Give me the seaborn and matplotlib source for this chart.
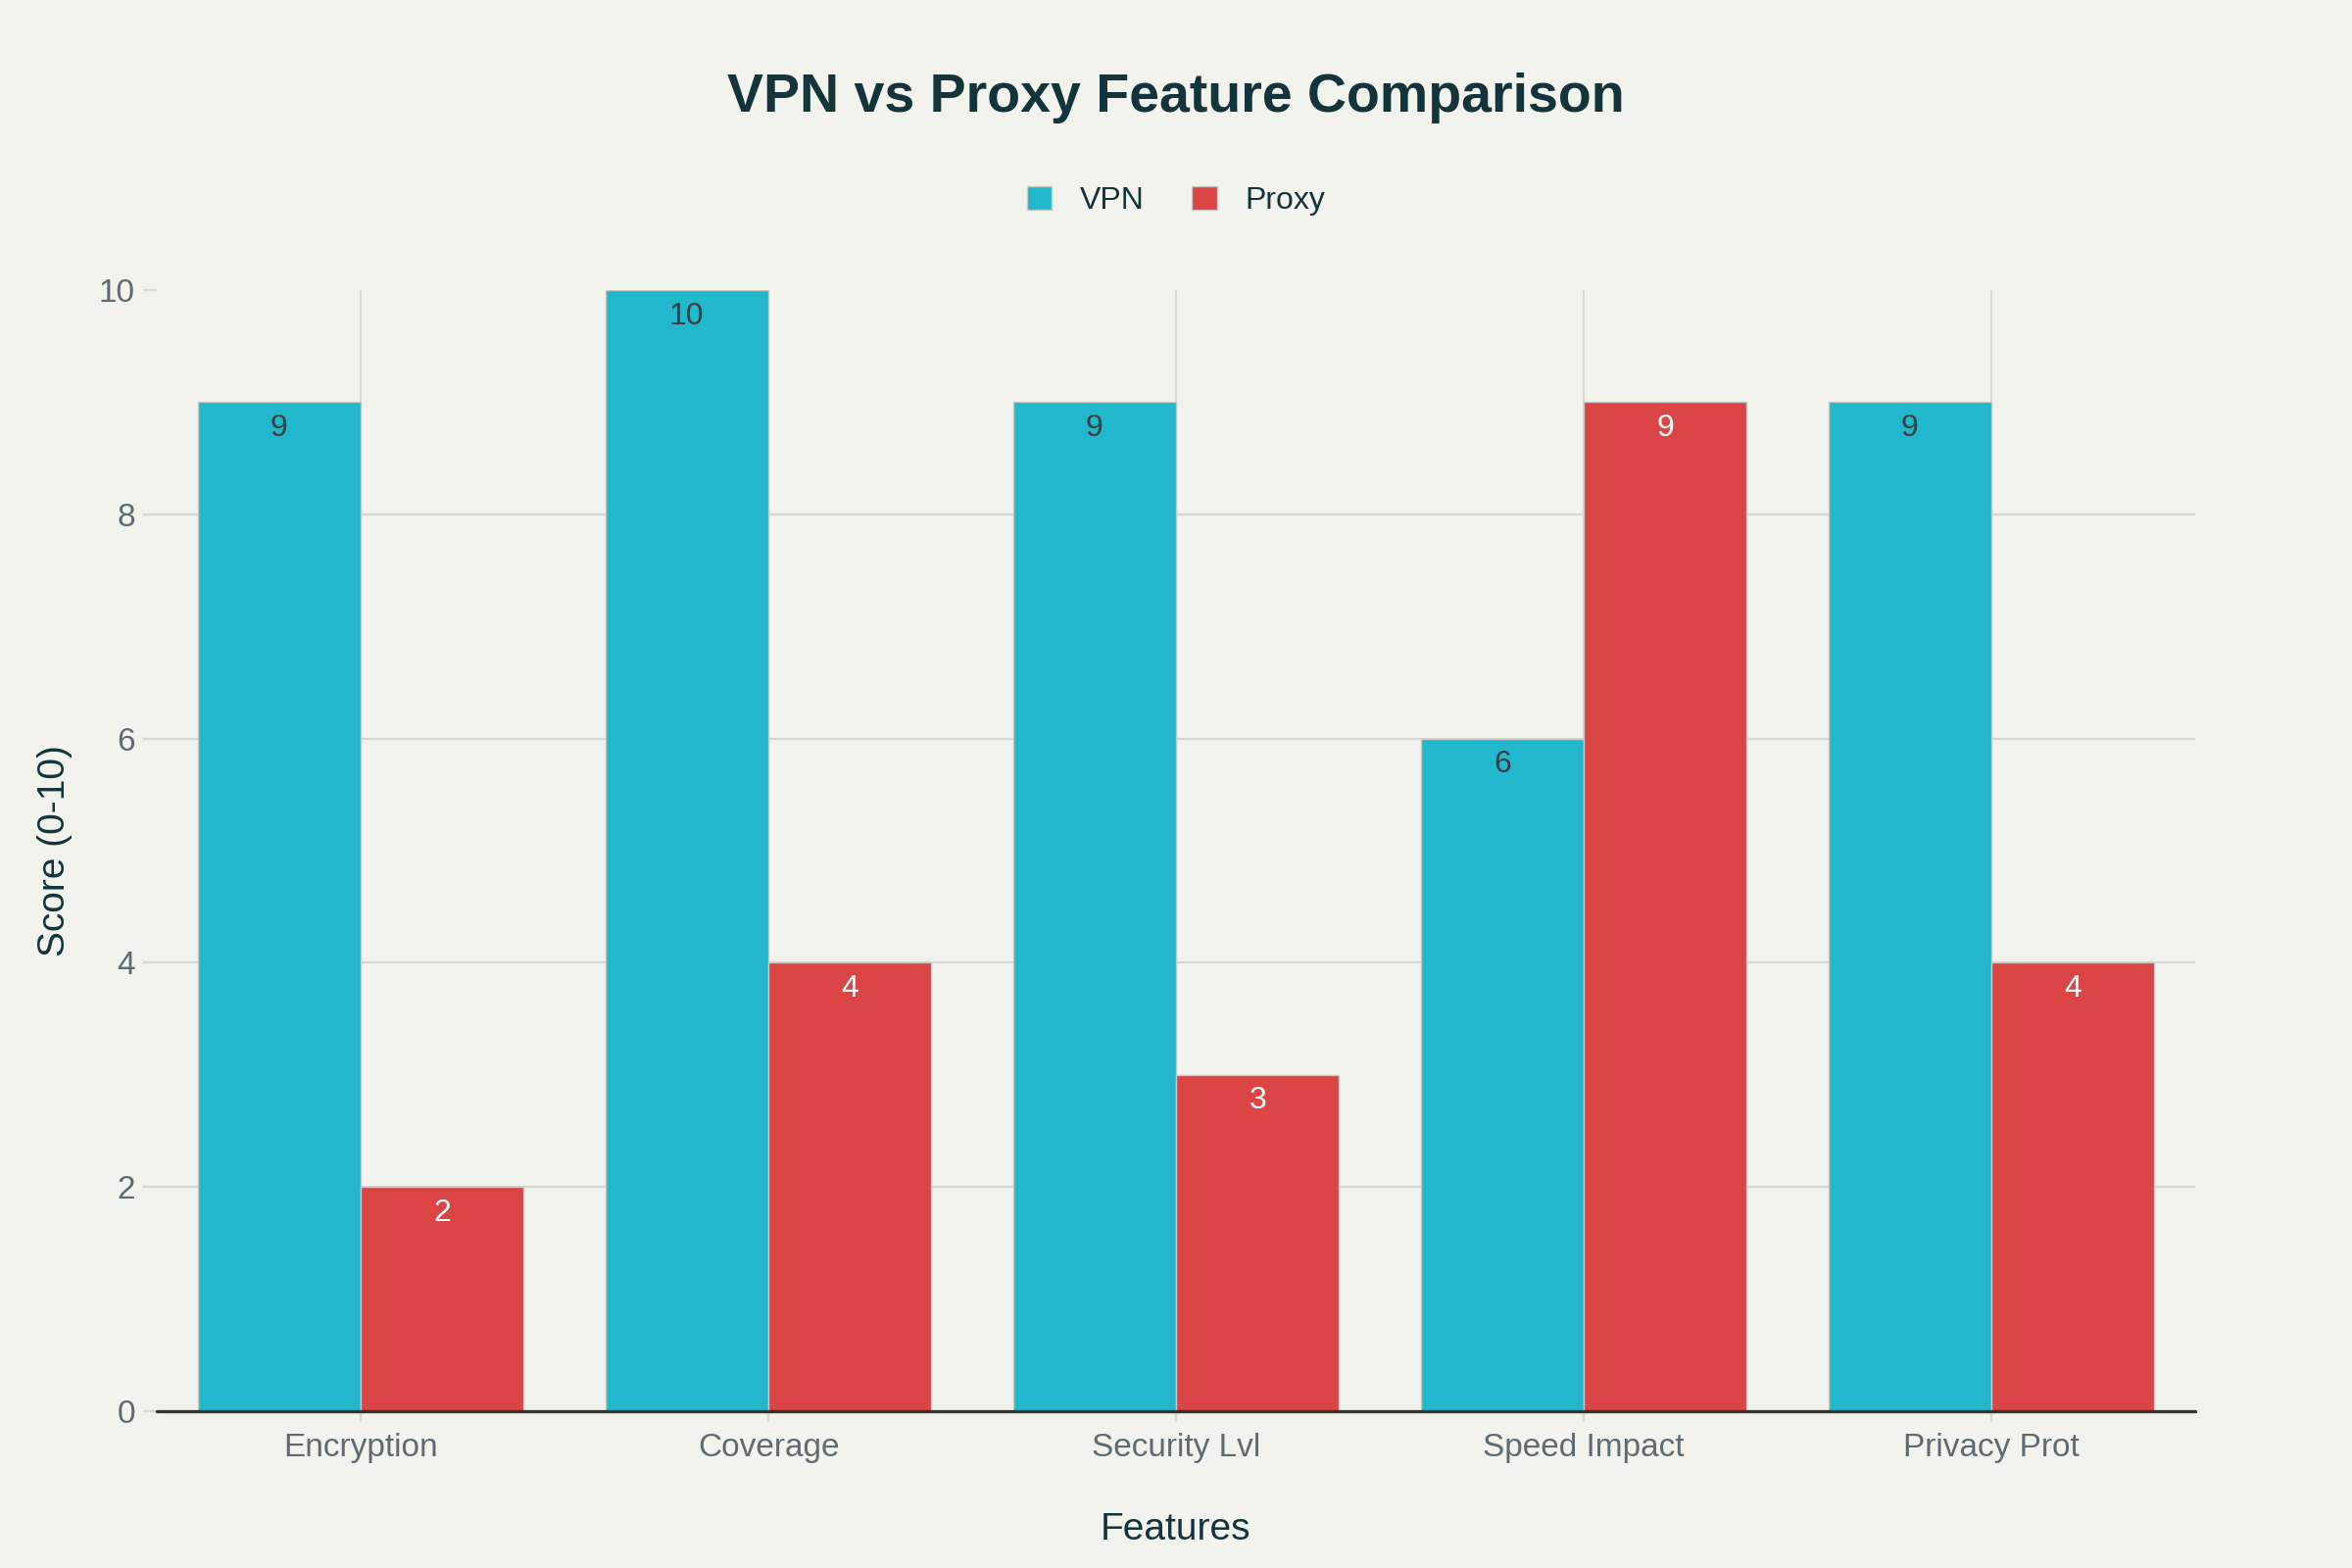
import matplotlib
matplotlib.use('Agg')
import matplotlib.pyplot as plt
import seaborn as sns
import pandas as pd
import numpy as np

features = ['Encryption', 'Coverage', 'Security Lvl', 'Speed Impact', 'Privacy Prot']
vpn_scores = [9, 10, 9, 6, 9]
proxy_scores = [2, 4, 3, 9, 4]
series_names = ['VPN', 'Proxy']
colors = ['#21B8CD', '#DB4545']
label_colors = ['#3D3D3D', '#FFFFFF']

bg = '#F3F3EE'
grid_c = '#D9D9D4'
text_dark = '#13343B'
tick_c = '#5F6B73'

df = pd.DataFrame({
    'Feature': features * 2,
    'Score': vpn_scores + proxy_scores,
    'Type': ['VPN'] * len(features) + ['Proxy'] * len(features),
})

sns.set_theme(style='white')
plt.rcParams['font.family'] = ['Liberation Sans', 'DejaVu Sans']

fig = plt.figure(figsize=(12, 8), dpi=200, facecolor=bg)
ax = fig.add_axes([160 / 2400, 0.1, 2080 / 2400, 0.715])
ax.set_facecolor(bg)

sns.barplot(data=df, x='Feature', y='Score', hue='Type', order=features,
            hue_order=series_names, palette=colors, width=0.8,
            edgecolor='#C8C8C4', linewidth=0.5, saturation=1, ax=ax, zorder=3)

# value labels inside bar tops
for cont, lc in zip(ax.containers, label_colors):
    labels = [f'{int(v)}' for v in cont.datavalues]
    ax.bar_label(cont, labels=labels, label_type='edge', padding=-15,
                 color=lc, fontsize=11.5, zorder=5)

ax.set_ylim(0, 10)
ax.set_xlim(-0.5, len(features) - 0.5)
ax.set_yticks([0, 2, 4, 6, 8, 10])
for y in [2, 4, 6, 8]:
    ax.axhline(y, color=grid_c, lw=0.8, zorder=1)
for x in range(len(features)):
    ax.axvline(x, color=grid_c, lw=0.8, zorder=1)
ax.axhline(0, color='#333333', lw=1.2, zorder=6, clip_on=False)

for s in ['top', 'right', 'left', 'bottom']:
    ax.spines[s].set_visible(False)

ax.tick_params(axis='y', length=5, width=0.8, color=grid_c, labelcolor=tick_c,
               labelsize=12, pad=3, left=True)
ax.tick_params(axis='x', length=4, width=0.8, color=grid_c, labelcolor=tick_c,
               labelsize=12, pad=4, bottom=True)

ax.set_xlabel('Features', fontsize=14, color=text_dark, labelpad=18)
ax.set_ylabel('Score (0-10)', fontsize=14, color=text_dark, labelpad=9.5)

fig.suptitle('VPN vs Proxy Feature Comparison', fontsize=20, fontweight='bold',
             color=text_dark, y=1 - 100 / 1600, va='center')

handles, lbls = ax.get_legend_handles_labels()
ax.legend_.remove()
fig.legend(handles, lbls, loc='center', bbox_to_anchor=(0.5, 1 - 205 / 1600),
           ncol=2, frameon=False, fontsize=11.5, handlelength=0.8, handleheight=0.8,
           columnspacing=1.5, handletextpad=0.9, labelcolor=text_dark)

fig.savefig('out.png', dpi=200, facecolor=bg)
